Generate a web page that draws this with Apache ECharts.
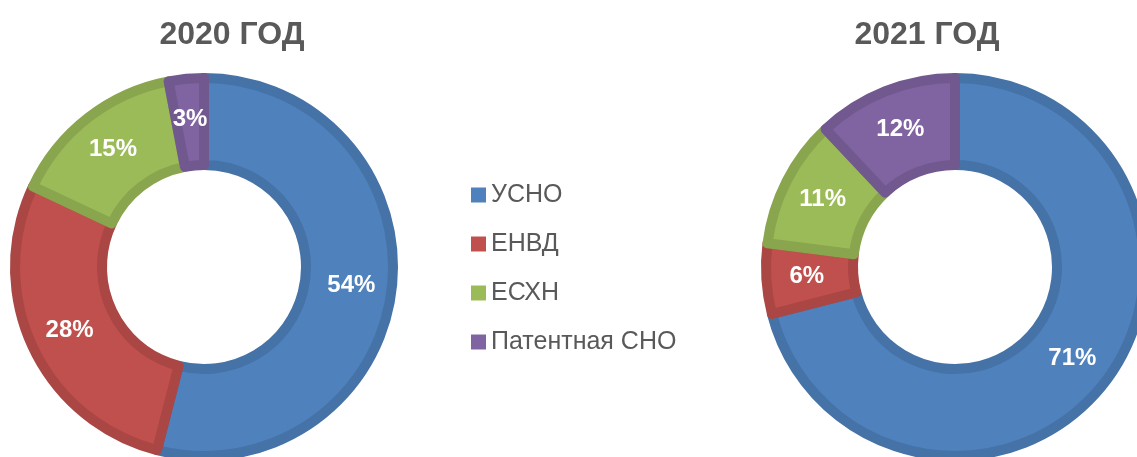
<!DOCTYPE html>
<html><head><meta charset="utf-8">
<script src="https://cdn.jsdelivr.net/npm/echarts@6/dist/echarts.min.js"></script>
<style>html,body{margin:0;padding:0;background:#fff}#c{width:1137px;height:457px}</style>
</head><body><div id="c"></div>
<script>
const categories = ['УСНО', 'ЕНВД', 'ЕСХН', 'Патентная СНО'];
const values2020 = [54, 28, 15, 3];
const values2021 = [71, 6, 11, 12];
const titles = ['2020 ГОД', '2021 ГОД'];
const colors = ['#4F81BD', '#C0504D', '#9BBB59', '#8064A2'];
const borders = ['#4572A7', '#AA4643', '#89A54E', '#71588F'];
const FONT = "'Liberation Sans Narrow','Arial Narrow','Liberation Sans',sans-serif";

function mk(vals, cx) {
  return {
    type: 'pie', center: [cx, 267], radius: [102, 189], startAngle: 90, clockwise: true,
    silent: true, animation: false,
    label: { show: true, position: 'inside', formatter: '{c}%', color: '#fff', fontFamily: FONT, fontWeight: 'bold', fontSize: 24 },
    labelLine: { show: false },
    data: categories.map((n, i) => ({ name: n, value: vals[i],
      itemStyle: { color: colors[i], borderColor: borders[i], borderWidth: 10 } }))
  };
}
const chart = echarts.init(document.getElementById('c'), null, { renderer: 'canvas' });
chart.setOption({
  animation: false,
  color: colors,
  title: [
    { text: titles[0], left: 232, top: 19, padding: 0, textAlign: 'center', textStyle: { fontFamily: FONT, fontWeight: 'bold', fontSize: 32, color: '#595959' } },
    { text: titles[1], left: 927, top: 19, padding: 0, textAlign: 'center', textStyle: { fontFamily: FONT, fontWeight: 'bold', fontSize: 32, color: '#595959' } }
  ],
  legend: {
    orient: 'vertical', left: 471, top: 180, padding: 0, itemWidth: 15, itemHeight: 15, itemGap: 19,
    icon: 'rect', data: categories, itemStyle: { borderWidth: 0 },
    textStyle: { fontFamily: FONT, fontSize: 25, color: '#595959', lineHeight: 30 }
  },
  series: [mk(values2020, 204), mk(values2021, 955)]
});
</script></body></html>
